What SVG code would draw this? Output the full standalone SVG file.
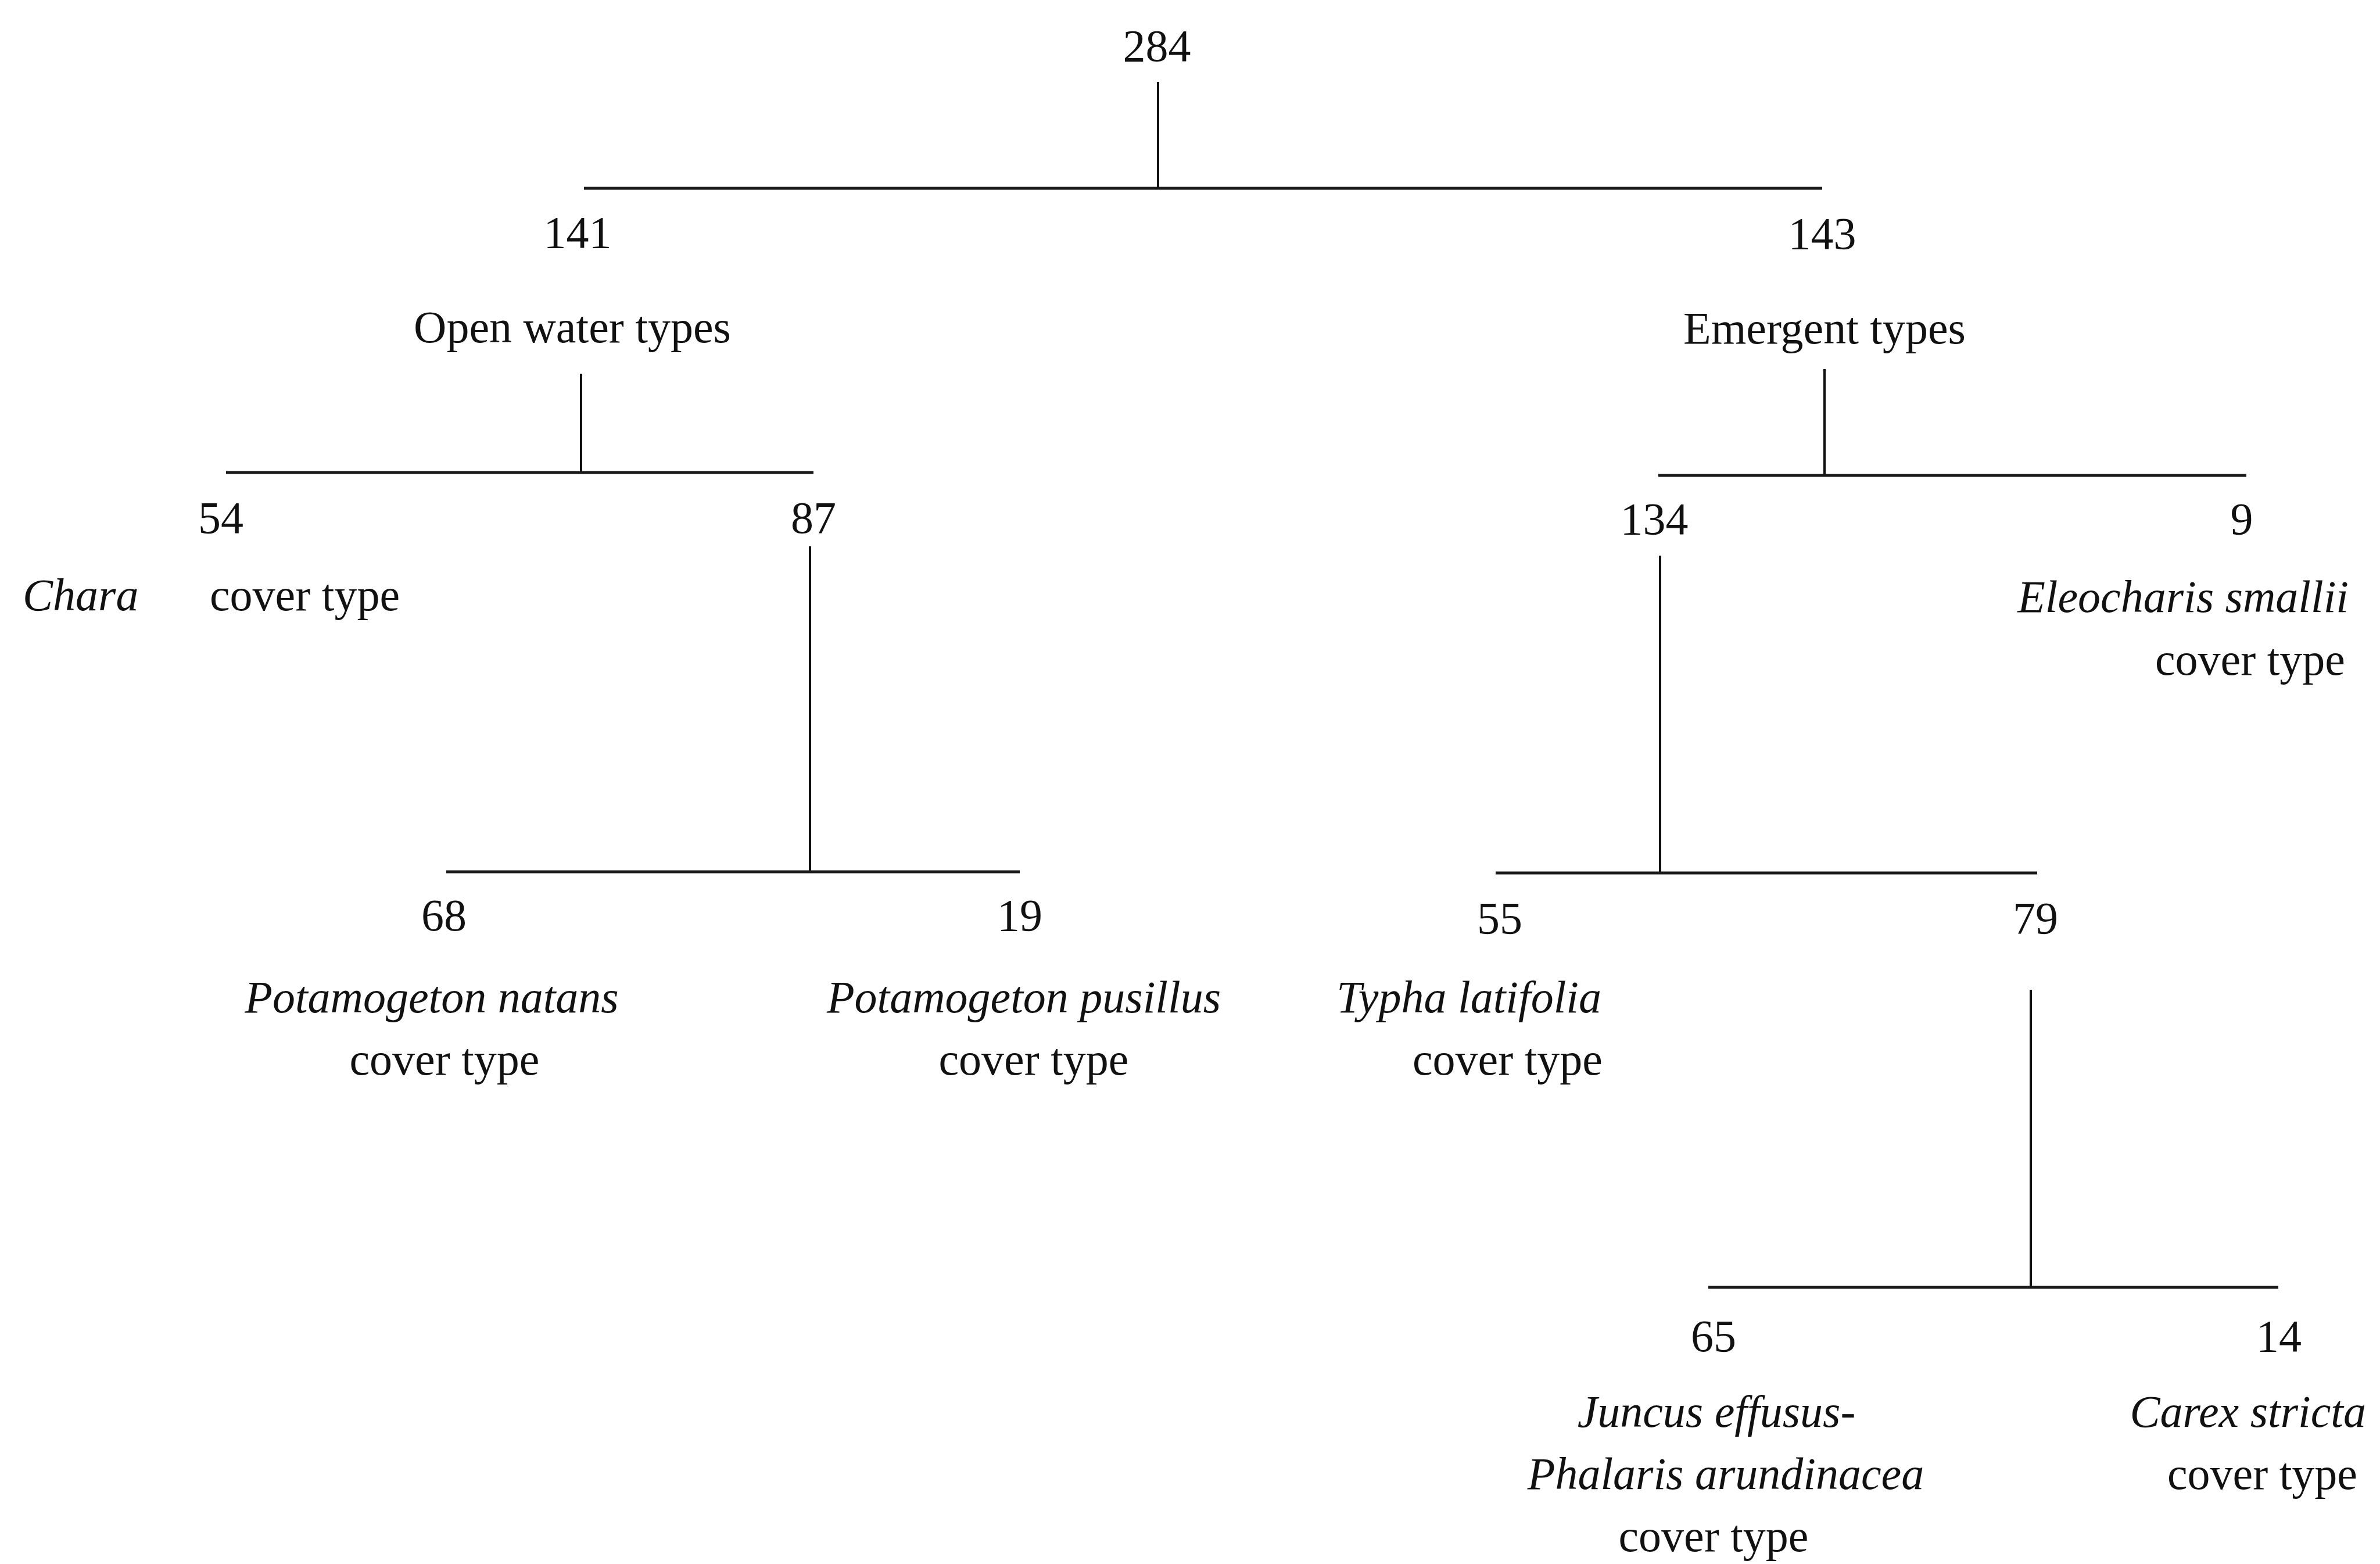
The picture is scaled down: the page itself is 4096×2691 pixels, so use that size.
<svg xmlns="http://www.w3.org/2000/svg" width="4096" height="2691" viewBox="0 0 4096 2691">
<style>
text{font-family:"Liberation Serif","Times New Roman",serif;font-size:78px;fill:#111}
.i{font-style:italic}
.c{text-anchor:middle}
.r{text-anchor:end}
.h{stroke:#1a1a1a;stroke-width:5;fill:none}
.v{stroke:#111;stroke-width:4;fill:none}
</style>
<rect width="4096" height="2691" fill="#ffffff"/>
<g id="connectors">
<line class="v" x1="1993" y1="141" x2="1993" y2="324"/>
<line class="h" x1="1005" y1="324" x2="3136" y2="324"/>
<line class="v" x1="1000" y1="643" x2="1000" y2="813"/>
<line class="h" x1="389" y1="813" x2="1400" y2="813"/>
<line class="v" x1="3140" y1="635" x2="3140" y2="818"/>
<line class="h" x1="2854" y1="818" x2="3866" y2="818"/>
<line class="v" x1="1394" y1="940" x2="1394" y2="1500"/>
<line class="h" x1="768" y1="1500" x2="1755" y2="1500"/>
<line class="v" x1="2857" y1="956" x2="2857" y2="1502"/>
<line class="h" x1="2574" y1="1502" x2="3506" y2="1502"/>
<line class="v" x1="3495" y1="1703" x2="3495" y2="2215"/>
<line class="h" x1="2940" y1="2215" x2="3921" y2="2215"/>
</g>
<g id="n284"><text class="c" x="1991" y="105">284</text></g>
<g id="n141"><text class="c" x="994" y="426">141</text><text class="c" x="985" y="589">Open water types</text></g>
<g id="n143"><text class="c" x="3136" y="428">143</text><text class="c" x="3140" y="591">Emergent types</text></g>
<g id="n54"><text class="c" x="380" y="917">54</text><text class="i" x="39" y="1050">Chara</text><text x="361" y="1050">cover type</text></g>
<g id="n87"><text class="c" x="1400" y="917">87</text></g>
<g id="n134"><text class="c" x="2847" y="919">134</text></g>
<g id="n9"><text class="c" x="3858" y="919">9</text><text class="i r" x="4042" y="1053">Eleocharis smallii</text><text class="r" x="4036" y="1161">cover type</text></g>
<g id="n68"><text class="c" x="764" y="1601">68</text><text class="i c" x="743" y="1742">Potamogeton natans</text><text class="c" x="765" y="1849">cover type</text></g>
<g id="n19"><text class="c" x="1755" y="1601">19</text><text class="i c" x="1762" y="1742">Potamogeton pusillus</text><text class="c" x="1779" y="1849">cover type</text></g>
<g id="n55"><text class="c" x="2581" y="1606">55</text><text class="i r" x="2756" y="1742">Typha latifolia</text><text class="r" x="2758" y="1849">cover type</text></g>
<g id="n79"><text class="c" x="3503" y="1606">79</text></g>
<g id="n65"><text class="c" x="2949" y="2325">65</text><text class="i c" x="2954" y="2455">Juncus effusus-</text><text class="i c" x="2970" y="2562">Phalaris arundinacea</text><text class="c" x="2949" y="2669">cover type</text></g>
<g id="n14"><text class="c" x="3922" y="2325">14</text><text class="i r" x="4072" y="2455">Carex stricta</text><text class="r" x="4057" y="2562">cover type</text></g>
</svg>
